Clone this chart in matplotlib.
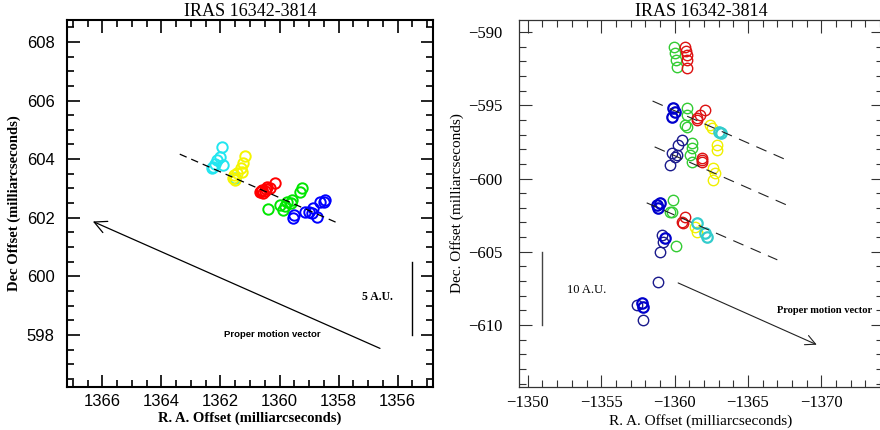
import numpy as np
import matplotlib
matplotlib.use("Agg")
import matplotlib.pyplot as plt
from matplotlib.ticker import MultipleLocator

#%% Left panel data (R.A., Dec offsets in mas)
L_cyan_x = [1362.26, 1361.95, 1362.12, 1361.92, 1362.02, 1362.20, 1362.30, 1361.51]
L_cyan_y = [603.73, 604.41, 603.97, 603.80, 604.07, 603.85, 603.70, 603.35]
L_yellow_x = [1361.17, 1361.24, 1361.27, 1361.44, 1361.58, 1361.51, 1361.30, 1361.55]
L_yellow_y = [604.10, 603.86, 603.56, 603.52, 603.35, 603.28, 603.70, 603.45]
L_red_x = [1360.59, 1360.15, 1360.42, 1360.66, 1360.56, 1360.32, 1360.62, 1360.50, 1360.45]
L_red_y = [602.94, 603.18, 603.04, 602.87, 602.84, 603.01, 602.90, 602.92, 602.98]
L_green_x = [1360.39, 1359.98, 1359.74, 1359.57, 1359.30, 1359.23, 1359.88, 1359.60, 1359.80]
L_green_y = [602.29, 602.43, 602.53, 602.60, 602.87, 603.00, 602.26, 602.50, 602.40]
L_blue_x = [1359.54, 1359.13, 1358.86, 1358.62, 1358.45, 1358.89, 1358.72, 1359.50, 1359.00, 1358.50]
L_blue_y = [601.98, 602.19, 602.32, 602.53, 602.60, 602.15, 602.02, 602.10, 602.20, 602.55]
L_fit_x = [1363.38, 1358.01]
L_fit_y = [604.17, 601.81]
L_pm_tail = (1356.51, 597.50)
L_pm_head = (1366.41, 601.91)
L_scale_x = 1355.5
L_scale_y = [598.0, 600.5]

#%% Right panel data
R_green_x = [-1359.93, -1360.00, -1360.07, -1360.14, -1360.82, -1360.82, -1360.68, -1360.88,
             -1361.16, -1361.16, -1361.02, -1361.16, -1359.86, -1359.66, -1359.80, -1360.07]
R_green_y = [-591.02, -591.43, -591.91, -592.39, -595.18, -595.66, -596.34, -596.48,
             -597.57, -597.91, -598.39, -598.87, -601.46, -602.28, -602.28, -604.60]
R_red_x = [-1360.68, -1360.82, -1360.82, -1360.82, -1360.75, -1361.50, -1361.56, -1362.04, -1361.70,
           -1361.84, -1361.90, -1361.90, -1360.48, -1360.54, -1360.68]
R_red_y = [-591.02, -591.57, -591.91, -592.46, -591.30, -596.00, -595.87, -595.32, -595.66,
           -598.60, -598.87, -598.73, -602.96, -603.03, -602.62]
R_blue_x = [-1359.86, -1359.80, -1360.00, -1358.78, -1358.84, -1358.98, -1359.32, -1357.76, -1357.82]
R_blue_y = [-595.18, -595.80, -595.46, -601.80, -602.00, -601.66, -604.05, -608.49, -608.76]
R_navy_x = [-1359.80, -1360.00, -1360.20, -1360.48, -1359.66, -1360.14,
            -1359.12, -1359.18, -1358.98, -1358.84, -1357.41, -1357.82]
R_navy_y = [-598.25, -598.53, -597.71, -597.37, -599.07, -598.39,
            -603.85, -604.32, -605.00, -607.05, -608.62, -609.65]
R_yellow_x = [-1362.38, -1362.52, -1362.86, -1362.86, -1362.65, -1362.72, -1362.59, -1361.36, -1361.50]
R_yellow_y = [-596.34, -596.55, -597.71, -598.05, -599.28, -599.62, -600.10, -603.30, -603.64]
R_cyan_x = [-1363.00, -1363.13, -1362.04, -1362.18, -1361.50]
R_cyan_y = [-596.82, -596.89, -603.71, -603.98, -603.03]
R_fit_x = [[-1358.50, -1367.62], [-1358.64, -1367.62], [-1358.10, -1367.00]]
R_fit_y = [[-594.71, -598.73], [-597.84, -601.80], [-601.66, -605.55]]
R_pm_tail = (-1360.07, -607.05)
R_pm_head = (-1369.86, -611.42)
R_scale_x = -1351.0
R_scale_y = [-605.0, -610.0]

serif = "Liberation Serif"
sans = "Liberation Sans"

fig = plt.figure(figsize=(8.8, 4.3), dpi=100)

#%% Left panel
ax1 = fig.add_axes([67/880, 43/430, 366/880, 367/430])
for xs, ys, c in [(L_cyan_x, L_cyan_y, '#22e6f0'), (L_yellow_x, L_yellow_y, '#f5f500'),
                  (L_red_x, L_red_y, '#ff0000'), (L_green_x, L_green_y, '#00e600'),
                  (L_blue_x, L_blue_y, '#0000ff')]:
    ax1.plot(xs, ys, 'o', mfc='none', mec=c, ms=7.5, mew=1.4)
ax1.plot(L_fit_x, L_fit_y, color='black', lw=0.9, dashes=(6, 4))
ax1.annotate('', xy=L_pm_head, xytext=L_pm_tail,
             arrowprops=dict(arrowstyle='->', color='black', lw=0.9, mutation_scale=22))
ax1.plot([L_scale_x, L_scale_x], L_scale_y, color='black', lw=1.0)
ax1.text(1356.68, 599.28, '5 A.U.', fontsize=8.5, fontweight='bold', family=serif,
         ha='center', va='center')
ax1.text(1360.25, 598.0, 'Proper motion vector', fontsize=6.8, fontweight='bold',
         family=sans, ha='center', va='center')
ax1.set_xlim(1367.2, 1354.8)
ax1.set_ylim(596.22, 608.75)
ax1.xaxis.set_major_locator(MultipleLocator(2))
ax1.xaxis.set_minor_locator(MultipleLocator(0.5))
ax1.yaxis.set_major_locator(MultipleLocator(2))
ax1.yaxis.set_minor_locator(MultipleLocator(0.5))
ax1.tick_params(which='both', direction='in', top=True, right=True, width=1.2)
ax1.tick_params(which='major', length=9, labelsize=12)
ax1.tick_params(axis='x', which='major', pad=5)
ax1.tick_params(axis='y', which='major', pad=9)
ax1.tick_params(which='minor', length=5)
for lab in ax1.get_xticklabels() + ax1.get_yticklabels():
    lab.set_family(sans)
for s in ax1.spines.values():
    s.set_linewidth(1.5)
ax1.set_title('IRAS 16342-3814', fontsize=13, family=serif, pad=2)
ax1.set_xlabel('R. A. Offset (milliarcseconds)', fontsize=10.5, fontweight='bold', family=serif, labelpad=2)
ax1.set_ylabel('Dec Offset (milliarcseconds)', fontsize=10.5, fontweight='bold', family=serif, labelpad=4)

#%% Right panel
ax2 = fig.add_axes([519/880, 43/430, 364/880, 367/430])
for xs, ys, c, w in [(R_green_x, R_green_y, '#33cc33', 1.0), (R_red_x, R_red_y, '#dd1111', 1.0),
                     (R_navy_x, R_navy_y, '#1a1a8c', 1.0), (R_blue_x, R_blue_y, '#0000cc', 1.6),
                     (R_yellow_x, R_yellow_y, '#f0f000', 1.0), (R_cyan_x, R_cyan_y, '#33cccc', 1.6)]:
    ax2.plot(xs, ys, 'o', mfc='none', mec=c, ms=7.5, mew=w)
for fx, fy in zip(R_fit_x, R_fit_y):
    ax2.plot(fx, fy, color='#222222', lw=0.8, dashes=(10, 7))
ax2.annotate('', xy=R_pm_head, xytext=R_pm_tail,
             arrowprops=dict(arrowstyle='->', color='#222222', lw=0.8, mutation_scale=18))
ax2.plot([R_scale_x, R_scale_x], R_scale_y, color='#444444', lw=1.0)
ax2.text(-1354.0, -607.6, '10 A.U.', fontsize=9, family=serif, ha='center', va='center')
ax2.text(-1367.0, -609.0, 'Proper motion vector', fontsize=7.6, fontweight='bold',
         family=serif, ha='left', va='center')
ax2.set_xlim(-1349.4, -1374.2)
ax2.set_ylim(-614.23, -589.18)
ax2.xaxis.set_major_locator(MultipleLocator(5))
ax2.xaxis.set_minor_locator(MultipleLocator(1))
ax2.yaxis.set_major_locator(MultipleLocator(5))
ax2.yaxis.set_minor_locator(MultipleLocator(1))
ax2.tick_params(which='both', direction='in', top=True, right=True, width=0.8, color='#333333')
ax2.tick_params(which='major', length=9, labelsize=12)
ax2.tick_params(axis='x', which='major', pad=6)
ax2.tick_params(axis='y', which='major', pad=12)
ax2.tick_params(which='minor', length=5)
for lab in ax2.get_xticklabels() + ax2.get_yticklabels():
    lab.set_family(serif)
for s in ax2.spines.values():
    s.set_linewidth(0.9)
    s.set_color('#333333')
ax2.set_title('IRAS 16342-3814', fontsize=13, family=serif, pad=2)
ax2.set_xlabel('R. A. Offset (milliarcseconds)', fontsize=11, family=serif, labelpad=2)
ax2.set_ylabel('Dec. Offset (milliarcseconds)', fontsize=11, family=serif, labelpad=3)

fig.savefig('out.png', dpi=100)
